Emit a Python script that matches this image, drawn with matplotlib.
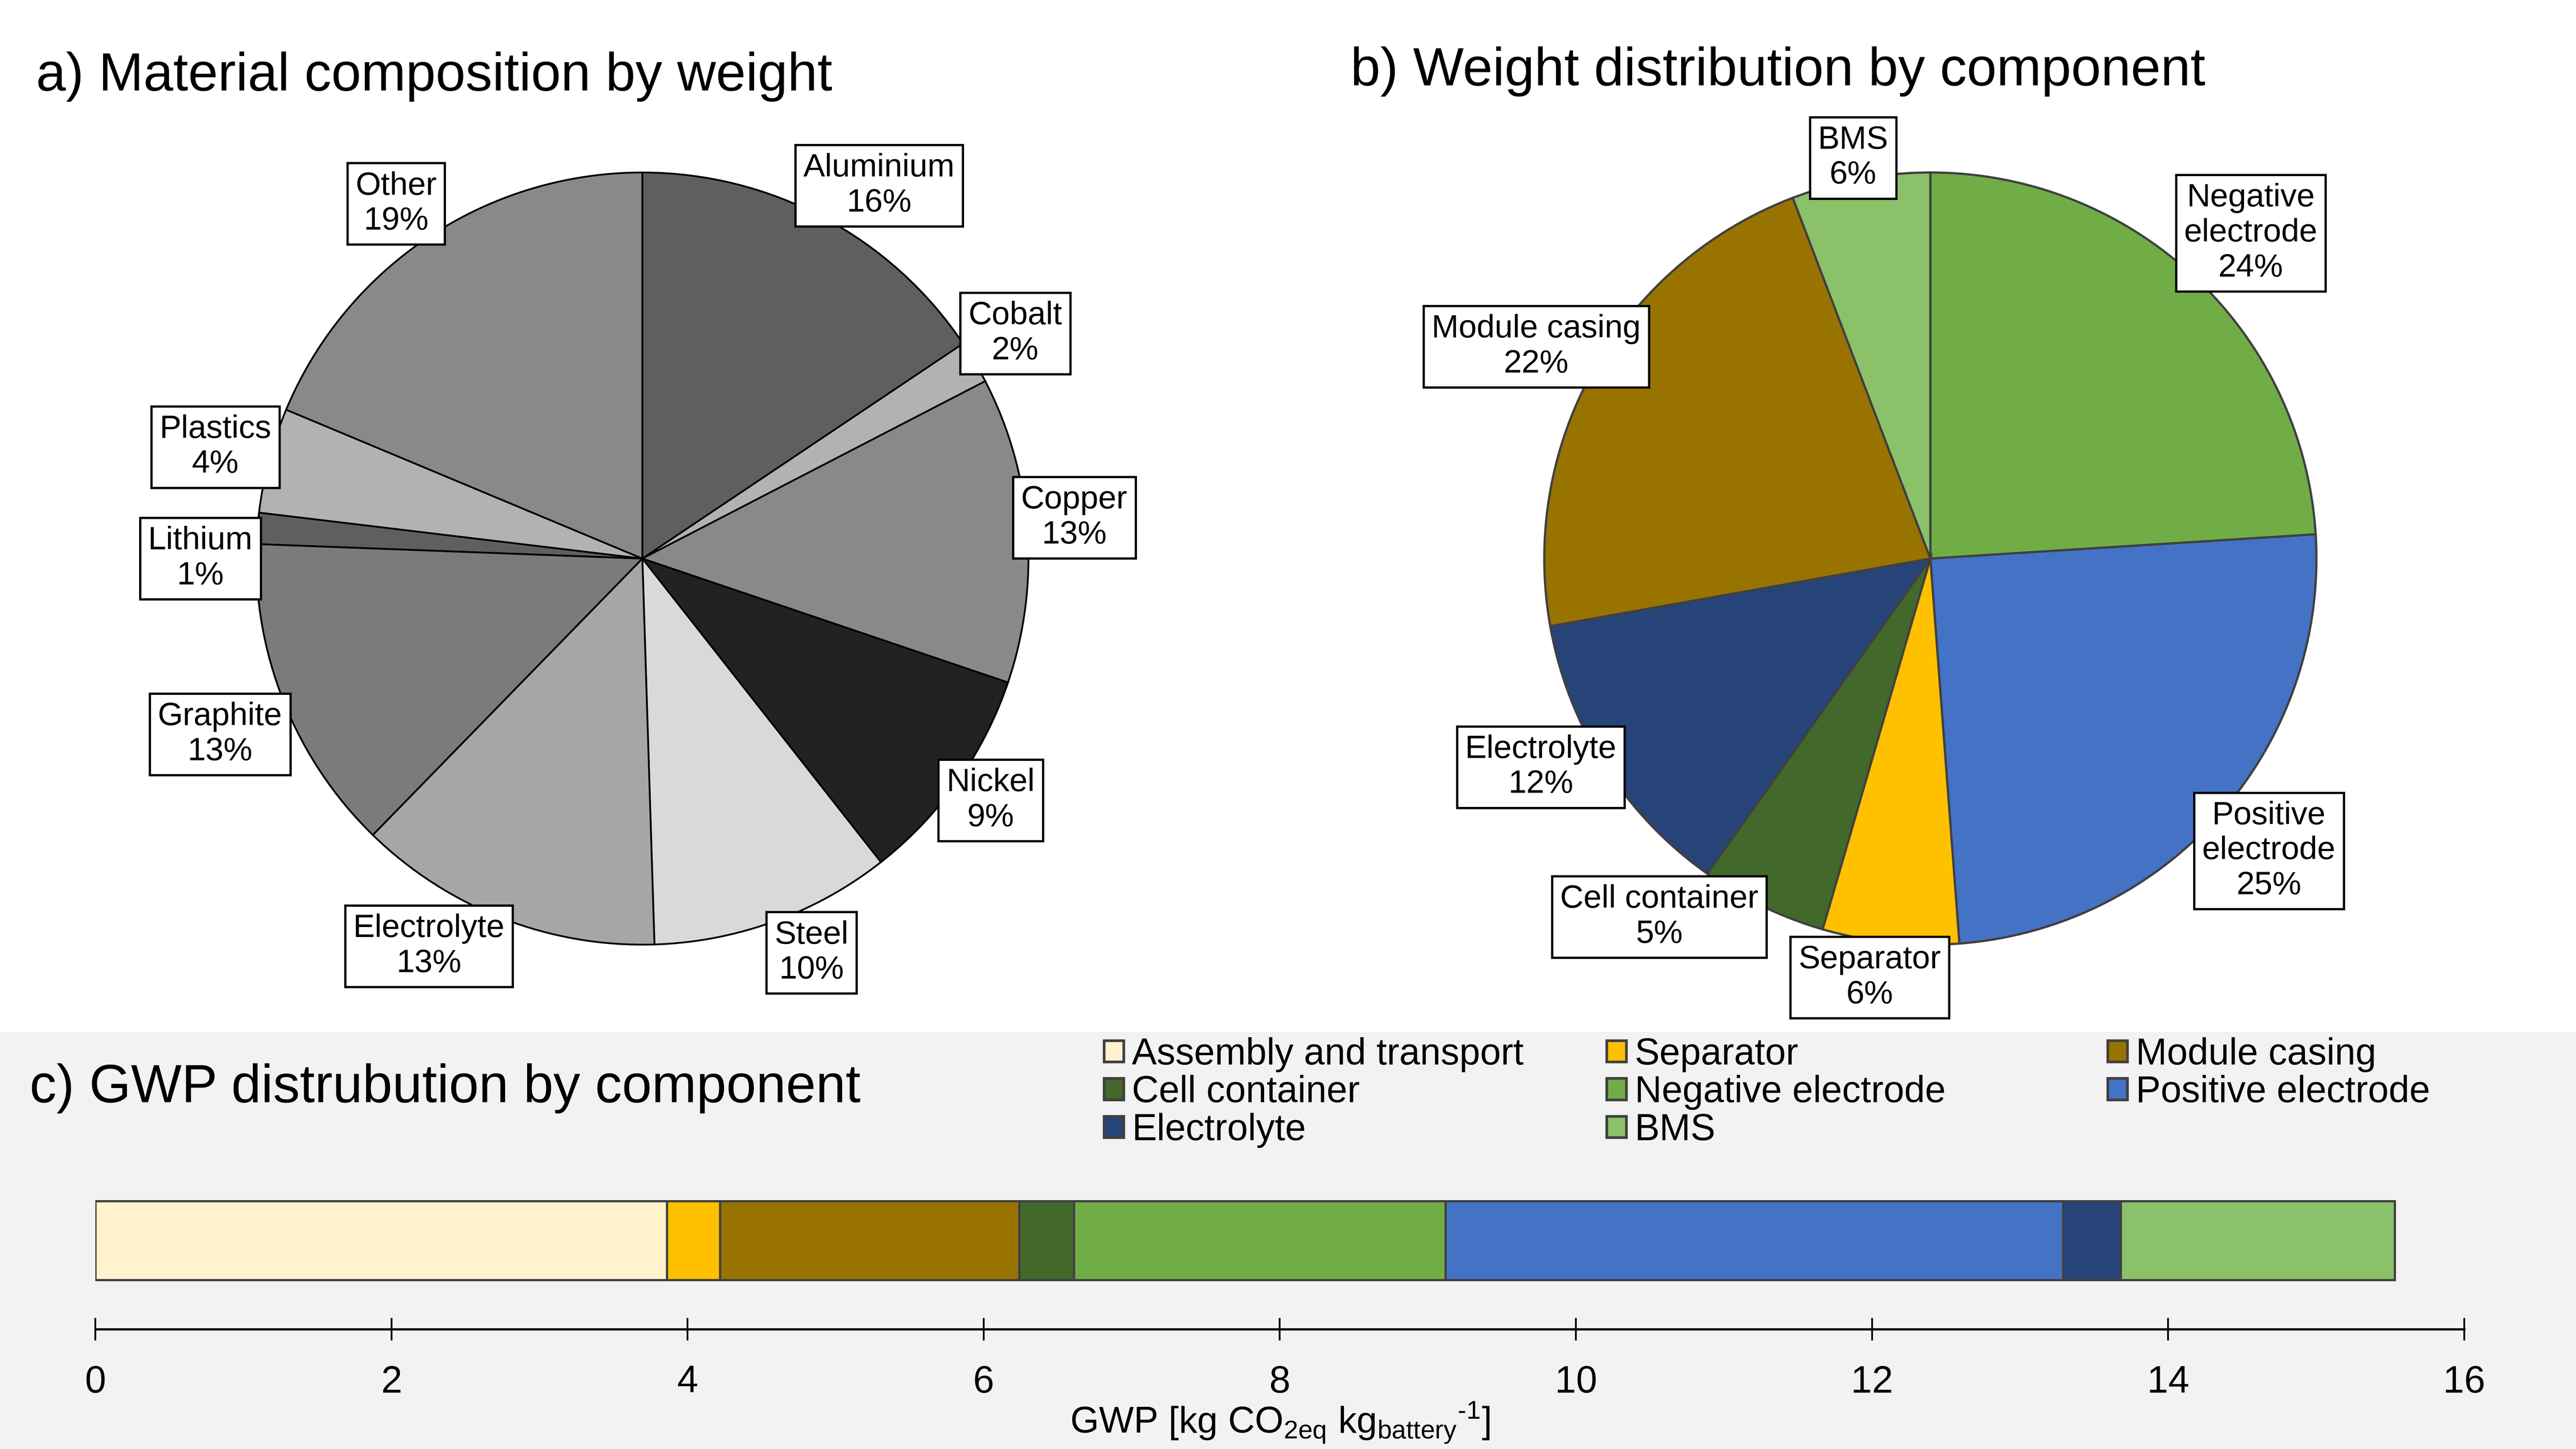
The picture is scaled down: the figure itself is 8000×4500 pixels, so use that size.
import numpy as np
import matplotlib
matplotlib.use('Agg')
import matplotlib.pyplot as plt
from matplotlib.patches import Rectangle

plt.rcParams['font.family'] = ['Liberation Sans', 'DejaVu Sans']
plt.rcParams['mathtext.default'] = 'regular'

# a) material composition by weight [%]
materials = ['Aluminium', 'Cobalt', 'Copper', 'Nickel', 'Steel',
             'Electrolyte', 'Graphite', 'Lithium', 'Plastics', 'Other']
material_share = [15.6, 1.8, 12.8, 9.2, 10.1, 12.8, 13.3, 1.3, 4.4, 18.7]
material_colors = ['#5f5f5f', '#b2b2b2', '#898989', '#222222', '#d9d9d9',
                   '#a6a6a6', '#7b7b7b', '#5f5f5f', '#b2b2b2', '#898989']

# b) weight distribution by component [%]
components = ['Negative\nelectrode', 'Positive\nelectrode', 'Separator', 'Cell container',
              'Electrolyte', 'Module casing', 'BMS']
weight_share = [24.0, 24.8, 5.7, 5.3, 12.4, 22.0, 5.8]

# c) GWP by component [kg CO2eq / kg battery]
gwp_parts = ['Assembly and transport', 'Separator', 'Module casing', 'Cell container',
             'Negative electrode', 'Positive electrode', 'Electrolyte', 'BMS']
gwp_values = [3.86, 0.36, 2.02, 0.37, 2.51, 4.17, 0.39, 1.85]

colors = {
    'Assembly and transport': '#fff2cc',
    'Separator': '#ffc000',
    'Module casing': '#997300',
    'Cell container': '#43682b',
    'Negative electrode': '#70ad47',
    'Positive electrode': '#4472c4',
    'Electrolyte': '#264478',
    'BMS': '#8bc168',
}

# label box positions (relative to pie centre, in radii)
pos_a = [(0.613, 0.966), (0.966, 0.583), (1.119, 0.106), (0.902, -0.626), (0.438, -1.021),
         (-0.553, -1.004), (-1.094, -0.455), (-1.145, 0.0), (-1.106, 0.289), (-0.638, 0.919)]
pos_b = [(0.83, 0.843), (0.877, -0.757), (-0.157, -1.085), (-0.702, -0.928),
         (-1.009, -0.540), (-1.021, 0.549), (-0.2, 1.038)]

W, H = 1568.0, 882.0  # layout reference grid


def fx(px):
    return px / W


def fy(py):
    return 1 - py / H


fig = plt.figure(figsize=(16, 9), dpi=500)
fig.patches.append(Rectangle((0, 0), 1, fy(628), transform=fig.transFigure,
                             facecolor='#f2f2f2', edgecolor='none', zorder=-5))

box = dict(boxstyle='square,pad=0.25', facecolor='white', edgecolor='black', linewidth=1)

# pie a
ax1 = fig.add_axes([fx(391 - 235), fy(340 + 235), fx(470), 470 / H])
ax1.pie(material_share, colors=material_colors, startangle=90, counterclock=False,
        wedgeprops=dict(edgecolor='black', linewidth=0.8))
ax1.set_xlim(-1, 1)
ax1.set_ylim(-1, 1)
for name, v, (x, y) in zip(materials, material_share, pos_a):
    ax1.text(x, y, f"{name}\n{round(v)}%", ha='center', va='center', fontsize=14.5,
             bbox=box, zorder=5, clip_on=False)

# pie b
comp_keys = [c.replace('\n', ' ') for c in components]
ax2 = fig.add_axes([fx(1175 - 235), fy(340 + 235), fx(470), 470 / H])
ax2.pie(weight_share, colors=[colors[k] for k in comp_keys], startangle=90, counterclock=False,
        wedgeprops=dict(edgecolor='#404040', linewidth=1.0))
ax2.set_xlim(-1, 1)
ax2.set_ylim(-1, 1)
for name, v, (x, y) in zip(components, weight_share, pos_b):
    ax2.text(x, y, f"{name}\n{round(v)}%", ha='center', va='center', fontsize=14.5,
             bbox=box, zorder=5, clip_on=False)

# bar c
ax3 = fig.add_axes([fx(58), fy(809), fx(1500 - 58), (809 - 717) / H])
ax3.set_zorder(2)
ax3.patch.set_visible(False)
lefts = np.concatenate([[0], np.cumsum(gwp_values)[:-1]])
ax3.barh(0.587, gwp_values, left=lefts, height=0.522,
         color=[colors[k] for k in gwp_parts], edgecolor='#404040', linewidth=1)
ax3.set_xlim(0, 16)
ax3.set_ylim(0, 1)
ax3.set_xticks(np.arange(0, 17, 2))
ax3.tick_params(axis='x', direction='inout', length=10, width=0.8, pad=11, labelsize=17)
ax3.set_yticks([])
for s in ['top', 'left', 'right']:
    ax3.spines[s].set_visible(False)
ax3.spines['bottom'].set_linewidth(1.0)
ax3.set_xlabel('GWP [kg CO$_{2eq}$ kg$_{battery}$$^{\u20101}$]', fontsize=16.5, labelpad=0)

# legend (3 columns)
col_x = [672, 978, 1283]
row_y = [640, 663, 686]
for i, name in enumerate(gwp_parts):
    r, c = divmod(i, 3)
    fig.add_artist(Rectangle((fx(col_x[c]), fy(row_y[r] + 6.5)), fx(12), 13 / H,
                             transform=fig.transFigure, facecolor=colors[name],
                             edgecolor='#404040', linewidth=1.2))
    fig.text(fx(col_x[c] + 17), fy(row_y[r] + 8), name, fontsize=16.7, va='baseline')

# titles
fig.text(fx(22), fy(55), 'a) Material composition by weight', fontsize=24, va='baseline')
fig.text(fx(822), fy(52), 'b) Weight distribution by component', fontsize=24, va='baseline')
fig.text(fx(18), fy(671), 'c) GWP distrubution by component', fontsize=24, va='baseline')

plt.savefig('out.png')
